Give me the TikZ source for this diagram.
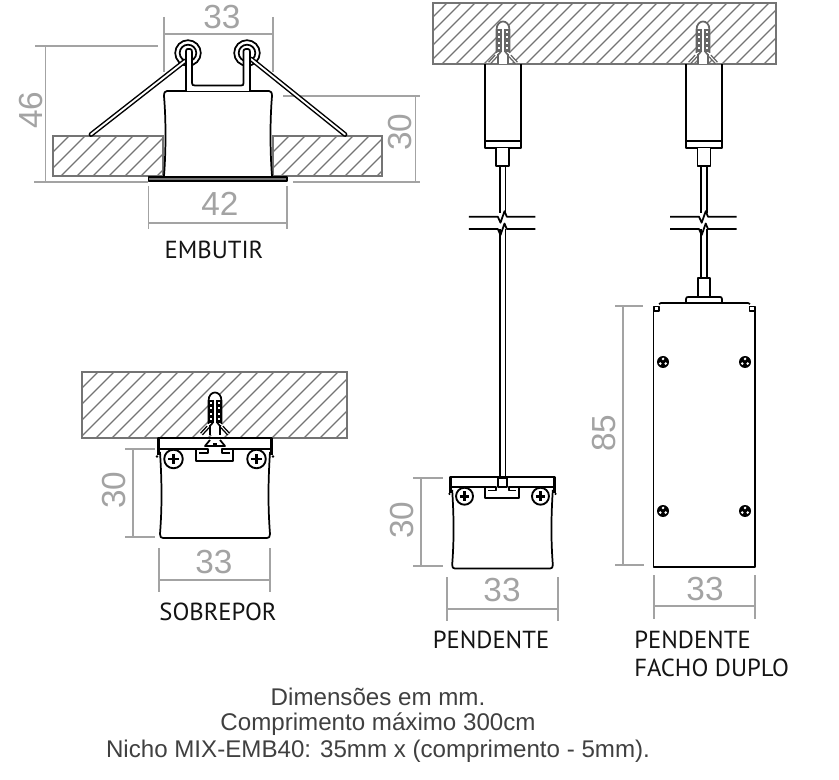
\documentclass[tikz,border=0pt]{standalone}
\usepackage{fontspec}
\setmainfont{Liberation Sans}
\newfontfamily\labfont{PT Sans}
\definecolor{dimgrey}{HTML}{A3A3A3}
\definecolor{slabgrey}{HTML}{747474}
\definecolor{txtgrey}{HTML}{404040}
\definecolor{lblblack}{HTML}{141414}
\tikzset{
  dimline/.style={draw=dimgrey,line width=1.3pt},
  dimtext/.style={text=dimgrey,font=\fontsize{25}{26}\selectfont,inner sep=0pt},
  captiontext/.style={text=lblblack,font=\labfont\fontsize{18.5}{19}\selectfont,inner sep=0pt},
  foottext/.style={text=txtgrey,font=\fontsize{18.1}{19}\selectfont,inner sep=0pt},
  part/.style={draw=black,line width=1.3pt,line join=round},
  slab/.style={draw=slabgrey,line width=1.5pt},
  hatchline/.style={draw=slabgrey,line width=.8pt},
}
\newcommand{\hatchbox}[5]{%
  \begin{scope}
    \clip (#1,#2) rectangle (#3,#4);
    \foreach \s in {0,#5,...,500}{
      \draw[hatchline] ({#1-(#4-#2)+\s},#4) -- ({#1+\s},#2);
    }
  \end{scope}
  \draw[slab] (#1,#2) rectangle (#3,#4);
}
% wall plug: #1 x, #2 y of tip, #3 colour
\newcommand{\plug}[3]{%
  \begin{scope}[shift={(#1,#2)}]
    \draw[#3,line width=2.8pt] (-7,35) -- (-13.5,42) (7,35) -- (13.5,42);
    \draw[white,line width=.7pt] (-7,35) -- (-13.5,42) (7,35) -- (13.5,42);
    \fill[white] (-7,32) -- (-7,9) .. controls (-7,3) and (-3,0) .. (0,0) .. controls (3,0) and (7,3) .. (7,9) -- (7,32) -- (5,34) -- (5,43) -- (-5,43) -- (-5,34) -- cycle;
    \fill[#3] (-6.5,8) rectangle (-1.6,31);
    \fill[#3] (1.6,8) rectangle (6.5,31);
    \foreach \yy in {10,15.5,21,26.5}{
      \fill[white] (-5,\yy) rectangle (-3.2,{\yy+2});
      \fill[white] (3.2,\yy) rectangle (5,{\yy+2});
    }
    \draw[#3,line width=1.2pt] (-5,34) -- (-1.6,30) (5,34) -- (1.6,30);
    \draw[#3,line width=1.3pt] (-6.5,32) -- (-6.5,9) .. controls (-6.5,3) and (-3,0.5) .. (0,0.5) .. controls (3,0.5) and (6.5,3) .. (6.5,9) -- (6.5,32);
    \draw[#3,line width=1.2pt] (-1.6,8) -- (-1.6,31) (1.6,8) -- (1.6,31);
    \draw[#3,line width=1.1pt] (-5,33) -- (-5,43) (5,33) -- (5,43);
  \end{scope}
}
% plus head screw
\newcommand{\plusscrew}[2]{%
  \begin{scope}[shift={(#1,#2)}]
    \draw[part,fill=white,line width=1.4pt] (0,0) circle (9.3);
    \draw[black,line width=2pt] (-5.2,0) -- (5.2,0) (0,-5.2) -- (0,5.2);
  \end{scope}
}
% small dark screw
\newcommand{\darkscrew}[2]{%
  \begin{scope}[shift={(#1,#2)}]
    \fill[black] (0,0) circle (6);
    \foreach \a in {30,150,270}{\fill[white] (\a:3.1) circle (1.4);}
  \end{scope}
}
% track head + body, origin at centre of top edge
\newcommand{\trackhead}[3]{%
  \begin{scope}[shift={(#1,#2)},scale=#3]
    \draw[part] (-55,14) .. controls (-53,45) and (-53,70) .. (-55,96) .. controls (-55,99) and (-54,100) .. (-52,100) -- (52,100) .. controls (54,100) and (55,99) .. (55,96) .. controls (53,70) and (53,45) .. (55,14);
    \draw[part] (-55,11) -- (-19,11) (18,11) -- (55,11);
    \draw[part] (-19,11) -- (-19,23) -- (18,23) -- (18,11);
    \draw[part,line width=1pt] (-19,11) -- (-7,11) -- (-7,15) -- (-16,15);
    \draw[part,line width=1pt] (18,11) -- (7,11) -- (7,15) -- (15,15);
    \draw[black,line width=2.2pt,line join=round] (-56.5,17) -- (-56.5,0) -- (56.5,0) -- (56.5,17);
    \fill[black] (-58,18.5) circle (1.3) (58,18.5) circle (1.3);
    \plusscrew{-41.5}{21}
    \plusscrew{41.5}{21}
  \end{scope}
}
\newcommand{\breakmark}[2]{%
  \begin{scope}[shift={(#1,#2)}]
    \fill[white] (-4,-4) rectangle (4,4);
    \draw[part] (-34,0) -- (-5,0) -- (-2.3,6) -- (1.7,-5.5) -- (4,0) -- (32.5,0);
  \end{scope}
}
\newcommand{\cable}[3]{%
  \draw[part] ({#1-2.8},#2) -- ({#1-2.8},#3) ({#1+2.8},#2) -- ({#1+2.8},#3);
}
\newcommand{\canopy}[1]{%
  \begin{scope}[shift={(#1,0)}]
    \draw[part] (-18,64) -- (-18,148) -- (18,148) -- (18,64);
    \draw[part,line width=1.7pt] (-18,141) -- (18,141);
    \draw[part,fill=white] (-6.5,148) -- (-6.5,166) -- (6.5,166) -- (6.5,148);
    \cable{0}{166}{216}
    \breakmark{0}{216.7}
    \breakmark{0}{229}
  \end{scope}
}
\begin{document}
\begin{tikzpicture}[x=.75pt,y=-.75pt]
\useasboundingbox (0,0) rectangle (839,780);
\fill[white] (0,0) rectangle (839,780);

%% ---------- EMBUTIR ----------
\hatchbox{53}{136}{163}{176}{16}
\hatchbox{273}{136}{382}{176}{16}
\draw[dimline] (164,17) -- (164,72) (273,17) -- (273,72) (164,34) -- (273,34);
\draw[dimline] (35,46) -- (158,46) (34,182) -- (148,182) (45.6,46) -- (45.6,182);
\draw[dimline] (283,96) -- (420,96) (293,182) -- (420,182) (415.6,96) -- (415.6,182);
\draw[dimline] (148.5,186) -- (148.5,229) (287,186) -- (287,229) (148.5,223) -- (287,223);
\draw[part] (164,176) .. controls (166,150) and (166,120) .. (164,96) .. controls (164,92.5) and (165,91) .. (167,91) -- (269,91) .. controls (271,91) and (272,92.5) .. (272,96) .. controls (270,120) and (270,150) .. (272,176);
\draw[part,fill=white] (188,53) circle (12.8);
\draw[part,fill=white] (247,53) circle (12.8);
\draw[part] (188,53) circle (8.3);
\draw[part] (247,53) circle (8.3);
\draw[black,line width=3.6pt,line cap=round] (185,61) -- (91,134.5);
\draw[white,line width=1.4pt,line cap=round] (185,61) -- (91,134.5);
\draw[black,line width=3.6pt,line cap=round] (251,59) -- (345,134.5);
\draw[white,line width=1.4pt,line cap=round] (251,59) -- (345,134.5);
\draw[part,fill=white] (186,91) -- (186,51) .. controls (186,49) and (187,49) .. (188,49) -- (190,49) .. controls (191.5,49) and (192,50) .. (192,52) -- (192,83) .. controls (192,85) and (193,85.5) .. (195,85.5) -- (241,85.5) .. controls (243,85.5) and (243.5,85) .. (243.5,83) -- (243.5,51) .. controls (243.5,50) and (244,49) .. (246,49) -- (248,49) .. controls (249.5,49) and (250,50) .. (250,52) -- (250,91);
\draw[part,fill=slabgrey] (148.5,177.3) rectangle (287,181);
\node (lbl33a) [dimtext] at (222,17) {33};
\node (lbl46) [dimtext,rotate=90] at (31,110) {46};
\node (lbl30a) [dimtext,rotate=90] at (400,132) {30};
\node (lbl42) [dimtext] at (220,204) {42};
\node (capEmb) [captiontext] at (214,250) {EMBUTIR};

%% ---------- SOBREPOR ----------
\hatchbox{82}{372}{347}{438}{16}
\plug{215}{392}{black}
\trackhead{215}{438}{1}
\fill[white] (209,441) rectangle (221,446);
\draw[part] (210,440) -- (205,446) -- (225,446) -- (220,440);
\fill[black] (213,443) rectangle (217,445);
\draw[dimline] (125,449) -- (155,449) (125,537) -- (155,537) (132.7,449) -- (132.7,537);
\draw[dimline] (159,548) -- (159,592) (270,548) -- (270,592) (159,580) -- (270,580);
\node (lbl30b) [dimtext,rotate=90] at (114,490) {30};
\node (lbl33b) [dimtext] at (214,562) {33};
\node (capSob) [captiontext] at (218,612) {SOBREPOR};

%% ---------- PENDENTE ----------
\hatchbox{433}{3}{776}{64}{14}
\plug{503}{21}{black!60}
\plug{703}{21}{black!60}
\canopy{502.8}
\canopy{704}
\cable{502.8}{229}{478}
\trackhead{502.5}{477}{.915}
\draw[part,fill=white] (498,478) rectangle (507,487);
\draw[dimline] (413,478) -- (443,478) (413,566) -- (443,566) (421,478) -- (421,566);
\draw[dimline] (447,577) -- (447,621) (558,577) -- (558,621) (447,609) -- (558,609);
\node (lbl30c) [dimtext,rotate=90] at (402,520) {30};
\node (lbl33c) [dimtext] at (502,590) {33};
\node (capPen) [captiontext] at (491,640) {PENDENTE};

%% ---------- PENDENTE FACHO DUPLO ----------
\cable{704}{229}{278}
\draw[part,fill=white] (698,296) -- (698,278) -- (710,278) -- (710,296);
\draw[part,fill=white] (686,303) -- (686,299) .. controls (686,297.5) and (687,297) .. (688,297) -- (720,297) .. controls (721,297) and (722,297.5) .. (722,299) -- (722,303);
\draw[part] (659,304) .. controls (660,303) and (660,303) .. (661,303) -- (748,303) .. controls (749,303) and (749,303) .. (750,304);
\draw[part] (653.5,308) -- (653.5,567) -- (755,567) -- (755,308);
\draw[part,line width=1.2pt] (654,306.5) rectangle (659,311);
\draw[part,line width=1.2pt] (749.5,306.5) rectangle (755,311);
\darkscrew{663}{362}
\darkscrew{745}{362}
\darkscrew{663}{511}
\darkscrew{745}{511}
\draw[dimline] (615,306) -- (643,306) (615,565) -- (644,565) (623,306) -- (623,565);
\draw[dimline] (654,575) -- (654,619) (755,575) -- (755,619) (654,606) -- (755,606);
\node (lbl85) [dimtext,rotate=90] at (604,433) {85};
\node (lbl33d) [dimtext] at (705,589) {33};
\node (capPen2) [captiontext,anchor=west] at (634,640) {PENDENTE};
\node (capFacho) [captiontext,anchor=west] at (634,668) {FACHO DUPLO};

%% ---------- FOOT ----------
\node (foot1) [foottext] at (378,697) {Dimensões em mm.};
\node (foot2) [foottext] at (378,724) {Comprimento máximo 300cm};
\node (foot3) [foottext] at (378,751) {Nicho MIX-EMB40: 35mm x (comprimento - 5mm).};
\end{tikzpicture}
\end{document}
